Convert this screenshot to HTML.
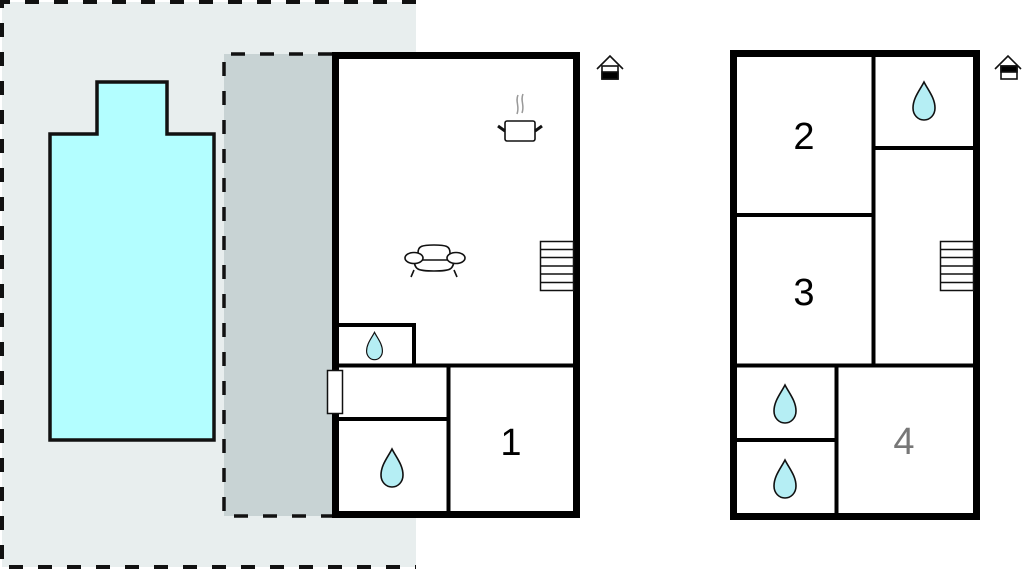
<!DOCTYPE html>
<html><head><meta charset="utf-8"><style>
html,body{margin:0;padding:0;background:#fff;width:1024px;height:570px;overflow:hidden}
svg{display:block}
</style></head><body>
<svg width="1024" height="570" viewBox="0 0 1024 570" xmlns="http://www.w3.org/2000/svg">
<defs>
<path id="drop" d="M0,-19 C4,-11 11,-3 11,7 C11,14 6,19 0,19 C-6,19 -11,14 -11,7 C-11,-3 -4,-11 0,-19 Z" fill="#b5eef4" stroke="#111" stroke-width="1.6"/>
</defs>
<rect x="2" y="2" width="440" height="565" fill="#e8eeee"/>
<rect x="416" y="0" width="30" height="570" fill="#fff"/>
<path d="M416,2 L2,2 L2,567 L416,567" fill="none" stroke="#111" stroke-width="4" stroke-dasharray="14,15"/>
<rect x="224" y="54" width="108" height="462" fill="#c8d3d4"/>
<path d="M332,54 L224,54 L224,516 L332,516" fill="none" stroke="#111" stroke-width="3.5" stroke-dasharray="14,15"/>
<path d="M50,134 L97,134 L97,82 L167,82 L167,134 L214,134 L214,440 L50,440 Z" fill="#b3feff" stroke="#111" stroke-width="3.5"/>
<rect x="335.5" y="55.5" width="241" height="459" fill="#fff" stroke="#000" stroke-width="7"/>
<g stroke="#000" fill="none">
<line x1="339" y1="365.5" x2="573" y2="365.5" stroke-width="4"/>
<path d="M339,325 L414,325 L414,365" stroke-width="4"/>
<line x1="448.5" y1="366" x2="448.5" y2="511" stroke-width="4"/>
<line x1="339" y1="419" x2="448" y2="419" stroke-width="4"/>
</g>
<rect x="327.5" y="370.5" width="15" height="43" fill="#fff" stroke="#111" stroke-width="1.5"/>
<g stroke="#111" stroke-width="1.5" fill="#fff">
<rect x="540.5" y="241.5" width="33" height="49"/>
<path d="M540,249.5H573M540,257.5H573M540,266H573M540,274H573M540,282.5H573"/>
</g>
<rect x="505" y="121" width="30" height="20" rx="2" fill="#fff" stroke="#111" stroke-width="1.6"/>
<path d="M498,126 L505,131 M542,126 L535,131" stroke="#111" stroke-width="3"/>
<path d="M518,95 C515,102 520,106 517,114 M523,94 C520,101 525,105 522,113" stroke="#999" stroke-width="1.5" fill="none"/>
<g stroke="#111" stroke-width="1.6" fill="#fff">
<path d="M414,270 L411,277 M454,270 L457,277"/>
<path d="M414,258 C414,270 418,271 434,271 C450,271 454,270 454,258 Z"/>
<path d="M418,253 C418,246 422,245 434,245 C446,245 450,246 450,253 L450,260 L418,260 Z"/>
<ellipse cx="414" cy="258" rx="9" ry="5.5"/>
<ellipse cx="456" cy="258" rx="9" ry="5.5"/>
</g>
<use href="#drop" transform="translate(374.5,346) scale(0.72)"/>
<use href="#drop" transform="translate(392,468)"/>
<text x="511" y="455" font-family="Liberation Sans, sans-serif" font-size="38" text-anchor="middle" fill="#000">1</text>
<rect x="733.5" y="53.5" width="243" height="463" fill="#fff" stroke="#000" stroke-width="7"/>
<g stroke="#000" stroke-width="4" fill="none">
<line x1="873.5" y1="57" x2="873.5" y2="366"/>
<line x1="875" y1="148" x2="973" y2="148"/>
<line x1="737" y1="215" x2="873" y2="215"/>
<line x1="737" y1="365.5" x2="973" y2="365.5"/>
<line x1="836.5" y1="366" x2="836.5" y2="513"/>
<line x1="737" y1="440" x2="836" y2="440"/>
</g>
<g stroke="#111" stroke-width="1.5" fill="#fff">
<rect x="940.5" y="241.5" width="33" height="49"/>
<path d="M940,249.5H973M940,257.5H973M940,266H973M940,274H973M940,282.5H973"/>
</g>
<use href="#drop" transform="translate(924,101)"/>
<use href="#drop" transform="translate(785,404)"/>
<use href="#drop" transform="translate(785,479)"/>
<g font-family="Liberation Sans, sans-serif" font-size="38" text-anchor="middle">
<text x="804" y="149">2</text>
<text x="804" y="305">3</text>
<text x="904" y="454" fill="#777">4</text>
</g>
<g stroke="#111" stroke-width="1.6" fill="#fff">
<path d="M597,69 L610,56 L623,69" fill="none"/>
<rect x="602" y="66" width="16" height="13"/>
<rect x="602" y="72" width="16" height="7" fill="#000"/>
</g>
<g stroke="#111" stroke-width="1.6" fill="#fff">
<path d="M995,69 L1008,56 L1021,69" fill="none"/>
<rect x="1001" y="66" width="16" height="13"/>
<rect x="1001" y="66" width="16" height="6" fill="#000"/>
</g>
</svg>
</body></html>
